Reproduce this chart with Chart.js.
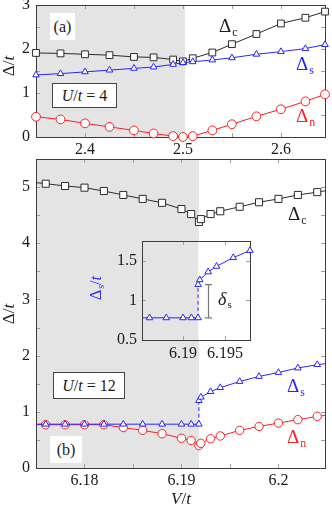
<!DOCTYPE html>
<html>
<head>
<meta charset="utf-8">
<title>Gaps vs V/t</title>
<script src="https://cdn.jsdelivr.net/npm/chart.js@4.4.1/dist/chart.umd.min.js"></script>
<style>
html,body{margin:0;padding:0;background:#fff;overflow:hidden}
#fig{position:relative;width:332px;height:508px;overflow:hidden;font-family:'Liberation Serif',serif;color:#1a1a1a}
#fig canvas{position:absolute}
.t{position:absolute;white-space:nowrap;line-height:1}
.t sub{font-size:0.62em;vertical-align:baseline;position:relative;top:0.3em;margin-left:1px}
.c{transform:translate(-50%,-50%)}
.r{transform:translate(-50%,-50%) rotate(-90deg)}
.box{position:absolute;background:#fff;box-sizing:border-box;display:flex;align-items:center;justify-content:center;font-size:16px;line-height:1}
.box.b{border:1px solid #444}
.blue{color:#2626ff}
.red{color:#ff2020}
i{font-style:italic}
</style>
</head>
<body>
<div id="fig">
  <canvas id="ca" width="352" height="200" style="left:0;top:-20px"></canvas>
  <canvas id="cb" width="352" height="372" style="left:0;top:139px"></canvas>
  <canvas id="ci" width="169" height="151" style="left:101px;top:221px"></canvas>

  <div class="box" style="left:50px;top:13px;width:25px;height:27px">(a)</div>
  <div class="box b" style="left:52px;top:83px;width:65px;height:25px"><i>U</i>/<i>t</i>&nbsp;=&nbsp;4</div>
  <div class="t" style="left:219px;top:16px;font-size:19px">Δ<sub>c</sub></div>
  <div class="t blue" style="left:296px;top:54px;font-size:19px">Δ<sub>s</sub></div>
  <div class="t red" style="left:296px;top:106px;font-size:19px">Δ<sub>n</sub></div>
  <div class="t r" style="left:8px;top:66px;font-size:17px">Δ/<i>t</i></div>

  <div class="t" style="left:288px;top:204px;font-size:19px">Δ<sub>c</sub></div>
  <div class="t blue" style="left:287px;top:376px;font-size:19px">Δ<sub>s</sub></div>
  <div class="t red" style="left:287px;top:427px;font-size:19px">Δ<sub>n</sub></div>
  <div class="box b" style="left:53px;top:372px;width:72px;height:27px"><i>U</i>/<i>t</i>&nbsp;=&nbsp;12</div>
  <div class="box" style="left:50px;top:436px;width:32px;height:27px">(b)</div>
  <div class="t r" style="left:8px;top:314px;font-size:17px">Δ/<i>t</i></div>
  <div class="t c" style="left:181px;top:498px;font-size:17px"><i>V</i>/<i>t</i></div>

  <div class="t r blue" style="left:96px;top:288px;font-size:16px">Δ<sub>s</sub>/<i>t</i></div>
  <div class="t" style="left:218px;top:290px;font-size:18px"><i>δ</i><sub>s</sub></div>
</div>
<script>
// panel (a): U/t = 4
const vA  = [2.35, 2.375, 2.4, 2.425, 2.45, 2.47, 2.49, 2.5, 2.51, 2.53, 2.55, 2.575, 2.6, 2.625, 2.645];
const dcA = [1.91, 1.90, 1.88, 1.86, 1.82, 1.81, 1.76, 1.72, 1.79, 1.92, 2.11, 2.34, 2.58, 2.71, 2.85];
const dsA = [1.41, 1.44, 1.48, 1.52, 1.56, 1.59, 1.65, 1.69, 1.71, 1.75, 1.80, 1.88, 1.94, 2.01, 2.10];
const dnA = [0.46, 0.40, 0.31, 0.23, 0.15, 0.08, 0.02, 0.00, 0.02, 0.15, 0.29, 0.47, 0.63, 0.81, 0.97];
const xTicksA = [2.4, 2.5, 2.6];
const yTicksA = [0, 1, 2, 3];
const shadeA = 2.502;

// panel (b): U/t = 12
const vB  = [6.174, 6.176, 6.178, 6.18, 6.182, 6.184, 6.186, 6.188, 6.19, 6.191, 6.1918, 6.192, 6.193, 6.194, 6.196, 6.198, 6.2, 6.202, 6.204, 6.206];
const dcB = [5.10, 5.06, 5.02, 4.99, 4.93, 4.86, 4.79, 4.72, 4.61, 4.52, 4.38, 4.43, 4.52, 4.57, 4.65, 4.73, 4.79, 4.86, 4.91, 4.97];
const dnB = [0.77, 0.77, 0.77, 0.77, 0.77, 0.72, 0.67, 0.61, 0.53, 0.49, 0.40, 0.44, 0.52, 0.57, 0.67, 0.74, 0.80, 0.86, 0.92, 0.96];
const vSlowB  = [6.174, 6.176, 6.178, 6.18, 6.182, 6.184, 6.186, 6.188, 6.19, 6.191, 6.1918];
const dsLowB  = [0.78, 0.78, 0.78, 0.78, 0.78, 0.78, 0.78, 0.78, 0.78, 0.78, 0.78];
const vShighB = [6.1918, 6.192, 6.193, 6.194, 6.196, 6.198, 6.2, 6.202, 6.204, 6.206];
const dsHighB = [1.20, 1.26, 1.36, 1.43, 1.54, 1.63, 1.70, 1.78, 1.84, 1.88];
const xTicksB = [6.18, 6.19, 6.2];
const yTicksB = [0, 1, 2, 3, 4, 5];
const shadeB = 6.1918;

// inset
const xTicksI = [6.19, 6.195];
const yTicksI = [0.5, 1, 1.5];
const insetX = [6.1851, 6.198];
const insetY = [0.5, 1.75];
const bracketX = 6.193;

const BLACK = '#2b2b2b', BLUE = '#2626ff', RED = '#ff2020';
Chart.defaults.font.family = "'Liberation Serif', serif";

const pts = (xs, ys) => xs.map((x, i) => ({x, y: ys[i]}));
const fmt = v => String(+v.toFixed(4));

function series(data, color, style, r, extra) {
  return Object.assign({
    data, borderColor: color, borderWidth: 1, tension: 0,
    pointStyle: style, pointRadius: r, pointHoverRadius: r,
    pointBorderColor: color, pointBackgroundColor: '#fff', pointBorderWidth: 1
  }, extra || {});
}

const dashJump = {borderDash: c => c.p0.parsed.x === c.p1.parsed.x ? [4, 2.5] : undefined};

function axis(min, max, ticks, o) {
  return {
    type: 'linear', min, max,
    grid: {display: false, drawTicks: false},
    border: {display: false},
    ticks: {color: '#1a1a1a', font: {size: 16}, padding: o.pad, callback: fmt, autoSkip: false, maxRotation: 0},
    afterBuildTicks: s => { s.ticks = ticks.map(value => ({value})); },
    afterFit: s => { if (o.w) s.width = o.w; if (o.h) s.height = o.h; }
  };
}

// shading, frame, inner ticks (all four sides), optional bracket
const frame = {
  id: 'frame',
  beforeDatasetsDraw(chart, args, o) {
    const {ctx, chartArea: a, scales: {x, y}} = chart;
    const L = o.len || 4;
    ctx.save();
    if (o.fill) { ctx.fillStyle = o.fill; ctx.fillRect(a.left, a.top, a.width, a.height); }
    const xs = Math.min(x.getPixelForValue(o.shadeTo), a.right);
    ctx.fillStyle = '#e4e4e4';
    ctx.fillRect(a.left, a.top, xs - a.left, a.height);

    ctx.strokeStyle = '#a0a0a0';
    ctx.lineWidth = 1;
    ctx.beginPath();
    for (let k = Math.ceil(x.min / o.xMinor - 1e-6); k * o.xMinor <= x.max + 1e-9; k++) {
      const p = x.getPixelForValue(k * o.xMinor);
      if (p - a.left < 1.5 || a.right - p < 1.5) continue;
      const px = Math.round(p) + 0.5;
      ctx.moveTo(px, a.top); ctx.lineTo(px, a.top + L);
      ctx.moveTo(px, a.bottom); ctx.lineTo(px, a.bottom - L);
    }
    for (let k = Math.ceil(y.min / o.yMinor - 1e-6); k * o.yMinor <= y.max + 1e-9; k++) {
      const p = y.getPixelForValue(k * o.yMinor);
      if (p - a.top < 1.5 || a.bottom - p < 1.5) continue;
      const py = Math.round(p) + 0.5;
      ctx.moveTo(a.left, py); ctx.lineTo(a.left + L, py);
      ctx.moveTo(a.right, py); ctx.lineTo(a.right - L, py);
    }
    ctx.stroke();

    ctx.strokeStyle = '#3c3c3c';
    ctx.strokeRect(Math.round(a.left) + 0.5, Math.round(a.top) + 0.5, Math.round(a.width), Math.round(a.height));

    if (o.bracket) {
      const bx = Math.round(x.getPixelForValue(o.bracket.x)) + 0.5;
      const y0 = y.getPixelForValue(o.bracket.y0), y1 = y.getPixelForValue(o.bracket.y1);
      ctx.strokeStyle = '#777';
      ctx.lineWidth = 1.2;
      ctx.beginPath();
      ctx.moveTo(bx, y0); ctx.lineTo(bx, y1);
      ctx.moveTo(bx - 3.5, y0); ctx.lineTo(bx + 3.5, y0);
      ctx.moveTo(bx - 3.5, y1); ctx.lineTo(bx + 3.5, y1);
      ctx.stroke();
    }
    ctx.restore();
  }
};

const base = (padding, frameOpts, scales) => ({
  responsive: false, animation: false, events: [],
  layout: {padding},
  plugins: {legend: {display: false}, tooltip: {enabled: false}, frame: frameOpts},
  scales
});

// panel (a)
new Chart(document.getElementById('ca'), {
  type: 'line',
  data: {datasets: [
    series(pts(vA, dsA), BLUE, 'triangle', 3.8, {clip: false}),
    series(pts(vA, dnA), RED, 'circle', 4.4, {clip: false}),
    series(pts(vA, dcA), BLACK, 'rect', 4.8, {clip: false})
  ]},
  options: base({left: 0, top: 25, right: 27, bottom: 20},
    {shadeTo: shadeA, xMinor: 0.05, yMinor: 0.5},
    {x: axis(2.35, 2.645, xTicksA, {pad: 3, h: 23}), y: axis(0, 3, yTicksA, {pad: 6, w: 36})}),
  plugins: [frame]
});

// panel (b)
const dsB = pts(vSlowB, dsLowB).concat(pts(vShighB, dsHighB));
new Chart(document.getElementById('cb'), {
  type: 'line',
  data: {datasets: [
    series(dsB, BLUE, 'triangle', 3.8, {segment: dashJump}),
    series(pts(vB, dnB), RED, 'circle', 4.2),
    series(pts(vB, dcB), BLACK, 'rect', 5)
  ]},
  options: base({left: 0, top: 20, right: 27, bottom: 20},
    {shadeTo: shadeB, xMinor: 0.005, yMinor: 0.5},
    {x: axis(6.175, 6.2048, xTicksB, {pad: 3, h: 23}), y: axis(0, 5.5, yTicksB, {pad: 6, w: 36})}),
  plugins: [frame]
});

// inset: Δs around the jump
new Chart(document.getElementById('ci'), {
  type: 'line',
  data: {datasets: [
    series(dsB.filter(p => p.x <= insetX[1] + 1e-9), BLUE, 'triangle', 3.8,
      {segment: dashJump, clip: {left: 0, right: false, top: false, bottom: false}})
  ]},
  options: base({left: 0, top: 20, right: 20, bottom: 10},
    {shadeTo: shadeB, xMinor: 0.005, yMinor: 0.5, fill: '#fff',
     bracket: {x: bracketX, y0: dsLowB[dsLowB.length - 1], y1: dsHighB[0]}},
    {x: axis(insetX[0], insetX[1], xTicksI, {pad: 4, h: 22}), y: axis(insetY[0], insetY[1], yTicksI, {pad: 5, w: 41})}),
  plugins: [frame]
});
</script>
</body>
</html>
